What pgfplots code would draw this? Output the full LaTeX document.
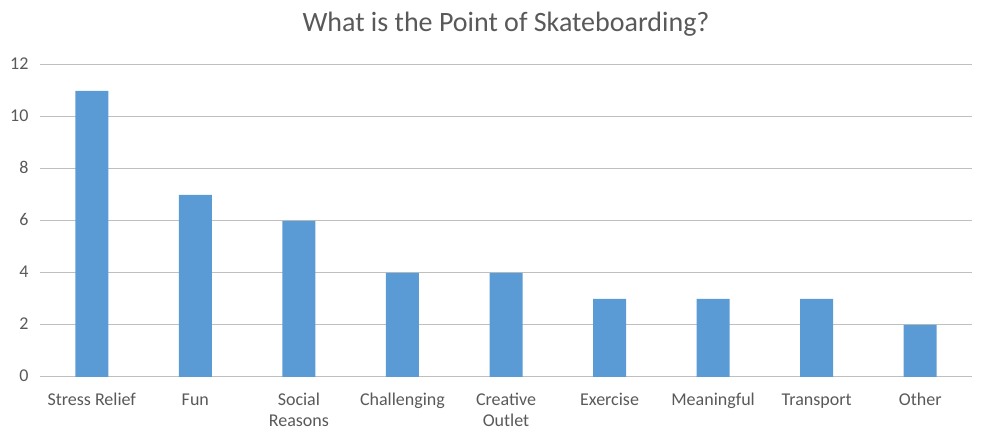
\documentclass[border=0pt]{standalone}
\usepackage{pgfplots}
\pgfplotsset{compat=1.18}
\usepackage{fontspec}
\setmainfont{Carlito}
\definecolor{barblue}{HTML}{5B9BD5}
\definecolor{txt}{HTML}{595959}
\definecolor{grid}{HTML}{D9D9D9}
\begin{document}
\begin{tikzpicture}
\useasboundingbox (-40pt,-66pt) rectangle (943pt,377pt);
\begin{axis}[
  at={(0,0)}, anchor=south west,
  scale only axis, width=932pt, height=312pt,
  xmin=-0.5, xmax=8.5, ymin=0, ymax=12,
  ytick={0,2,...,12},
  xtick=data,
  xticklabels={Stress Relief,Fun,Social\\Reasons,Challenging,Creative\\Outlet,Exercise,Meaningful,Transport,Other},
  typeset ticklabels with strut,
  xticklabel style={align=center, text=txt, font=\fontsize{18}{21}\selectfont, anchor=north, yshift=-10pt},
  yticklabel style={text=txt, font=\fontsize{18}{21}\selectfont, xshift=-8pt},
  /pgf/number format/assume math mode=true,
  major tick length=0pt, tick style={draw=none},
  xmajorgrids=false, ymajorgrids=true, grid style={grid, line width=1pt},
  axis line style={draw=none},
  title={What is the Point of Skateboarding?},
  title style={text=txt, font=\fontsize{28}{32}\selectfont, at={(0.5,1)}, anchor=south, yshift=19pt},
  clip=false,
]
\addplot[ybar, bar width=33pt, fill=barblue, draw=none] coordinates {
(0,11) (1,7) (2,6) (3,4) (4,4) (5,3) (6,3) (7,3) (8,2)};
\end{axis}
\end{tikzpicture}
\end{document}
